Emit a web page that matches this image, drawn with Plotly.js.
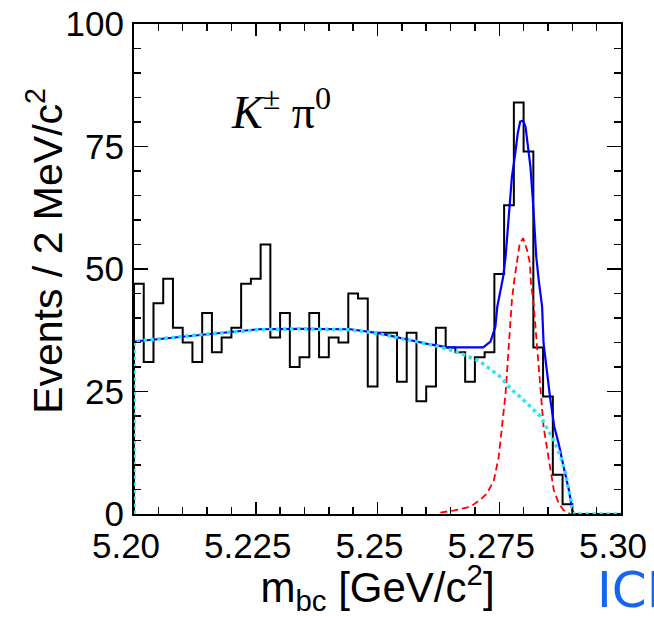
<!DOCTYPE html>
<html>
<head>
<meta charset="utf-8">
<script src="https://cdn.plot.ly/plotly-3.0.1.min.js"></script>
<style>html,body{margin:0;padding:0;background:#fff;}#chart{width:654px;height:617px;}</style>
</head>
<body>
<div id="chart"></div>
<script>
// ---- Histogram: events per 2 MeV/c^2 bin, m_bc from 5.20 to 5.30 GeV/c^2 ----
const binStart = 5.20;
const binWidth = 0.002;
const counts = [47, 31, 43, 48, 38, 35, 31, 41, 33, 36,
                38, 47, 48, 55, 36, 41, 30, 32, 41, 32,
                36, 35, 45, 44, 26, 37, 37, 27, 37, 23,
                26, 38, 34, 33, 27, 32, 33, 49, 63, 84,
                74, 34, 24, 8, 2, 0, 0, 0, 0, 0];

// ---- Total fit (blue) ----
const totalX = [5.2000, 5.2125, 5.2255, 5.2341, 5.2444, 5.2502, 5.2547, 5.2608, 5.2645, 5.2717,
                5.2732, 5.2742, 5.2746, 5.2752, 5.2758, 5.2763, 5.2769, 5.2776, 5.2783, 5.2788,
                5.2793, 5.2799, 5.2804, 5.2809, 5.2814, 5.2819, 5.2822, 5.2826, 5.2831, 5.2838,
                5.2841, 5.2848, 5.2855, 5.2863, 5.2872, 5.2882, 5.2893, 5.2900, 5.2903];
const totalY = [35.2, 36.5, 37.7, 37.8, 37.7, 36.9, 35.9, 34.6, 34.0, 34.0,
                35.2, 38.2, 42.3, 45.7, 48.4, 52.5, 60.7, 68.8, 73.7, 77.7,
                80.1, 80.3, 79.0, 74.3, 70.9, 64.1, 59.3, 52.5, 47.8, 42.3,
                34.8, 28.7, 23.3, 17.8, 14.4, 9.7, 4.9, 0.8, 0.0];

// ---- Background (cyan, dotted) ----
const bkgX = [5.2000, 5.2000, 5.2125, 5.2255, 5.2341, 5.2444, 5.2502, 5.2547, 5.2608, 5.2666,
              5.2711, 5.2752, 5.2773, 5.2793, 5.2814, 5.2835, 5.2848, 5.2862, 5.2876, 5.2886,
              5.2893, 5.2900, 5.2903, 5.3000];
const bkgY = [0.0, 35.2, 36.5, 37.6, 37.8, 37.6, 36.8, 35.9, 34.6, 33.0,
              31.1, 28.0, 25.6, 23.9, 21.9, 19.9, 17.5, 15.1, 11.7, 8.3,
              4.9, 1.5, 0.0, 0.0];

// ---- Signal (red, dashed) ----
const sigX = [5.2629, 5.2656, 5.2691, 5.2711, 5.2725, 5.2739, 5.2749, 5.2756, 5.2763, 5.2769,
              5.2776, 5.2781, 5.2788, 5.2792, 5.2799, 5.2807, 5.2813, 5.2815, 5.2820, 5.2828,
              5.2835, 5.2841, 5.2852, 5.2862, 5.2872, 5.2882, 5.2896];
const sigY = [0.3, 0.7, 1.5, 2.9, 4.2, 6.9, 11.7, 17.8, 24.6, 33.5,
              43.7, 47.8, 52.5, 55.2, 56.3, 53.9, 51.2, 47.1, 43.5, 33.5,
              25.3, 17.8, 11.0, 4.9, 2.2, 0.8, 0.0];

// ---- Axis ticks ----
const xTickVals = [5.20, 5.225, 5.25, 5.275, 5.30];
const xTickText = ['5.20', '5.225', '5.25', '5.275', '5.30'];
const yTickVals = [0, 25, 50, 75, 100];
const yTickText = ['0', '25', '50', '75', '100'];

// histogram outline built from the bins
const histX = [binStart];
const histY = [0];
for (let i = 0; i < counts.length; i++) {
  histX.push(binStart + binWidth * i);
  histY.push(counts[i]);
}
histX.push(binStart + binWidth * counts.length);
histY.push(counts[counts.length - 1]);

const traces = [
  {x: histX, y: histY, type: 'scatter', mode: 'lines', line: {shape: 'hv', color: '#000000', width: 2}, hoverinfo: 'skip'},
  {x: totalX, y: totalY, type: 'scatter', mode: 'lines', line: {color: '#0000ff', width: 2.2}, hoverinfo: 'skip'},
  {x: sigX, y: sigY, type: 'scatter', mode: 'lines', line: {color: '#ff0000', width: 1.8, dash: '7px,4px'}, hoverinfo: 'skip'},
  {x: bkgX, y: bkgY, type: 'scatter', mode: 'lines', line: {color: '#2ee6f0', width: 3.5, dash: 'dot'}, hoverinfo: 'skip'}
];

const tickFont = {family: 'Liberation Sans, Arial, sans-serif', size: 35, color: '#000'};

const layout = {
  width: 654, height: 617,
  margin: {l: 134, r: 33, t: 24, b: 103, pad: 0},
  paper_bgcolor: '#ffffff', plot_bgcolor: '#ffffff',
  showlegend: false,
  xaxis: {
    range: [5.20, 5.30], tickmode: 'array', tickvals: xTickVals, ticktext: xTickText,
    ticks: 'inside', ticklen: 12, tickwidth: 1.5, tickcolor: '#000',
    minor: {tick0: 5.20, dtick: 0.005, ticks: 'inside', ticklen: 7, tickwidth: 1.5, tickcolor: '#000'},
    showline: true, linecolor: '#000', linewidth: 2, mirror: 'allticks',
    showgrid: false, zeroline: false, tickfont: tickFont,
    ticklabelstandoff: 0, ticklabelshift: -8, ticklabeloverflow: 'allow',
    title: {text: 'm<sub>bc</sub> [GeV/c<sup>2</sup>]', font: {family: 'Liberation Sans, Arial, sans-serif', size: 42, color: '#000'}, standoff: 4}
  },
  yaxis: {
    range: [0, 100], tickmode: 'array', tickvals: yTickVals, ticktext: yTickText,
    ticks: 'inside', ticklen: 14, tickwidth: 1.5, tickcolor: '#000',
    minor: {tick0: 0, dtick: 5, ticks: 'inside', ticklen: 7, tickwidth: 1.5, tickcolor: '#000'},
    showline: true, linecolor: '#000', linewidth: 2, mirror: 'allticks',
    showgrid: false, zeroline: false, tickfont: tickFont, ticklabelstandoff: 1
  },
  annotations: [
    {text: 'Events / 2 MeV/c<sup>2</sup>', xref: 'paper', yref: 'paper', x: 0, y: 0.537, xshift: -89,
     xanchor: 'center', yanchor: 'middle', textangle: -90, showarrow: false,
     font: {family: 'Liberation Sans, Arial, sans-serif', size: 41, color: '#000'}},
    {text: '<i>K</i><sup>±</sup> π<sup>0</sup>', xref: 'paper', yref: 'paper', x: 0.302, y: 0.826,
     xanchor: 'center', yanchor: 'middle', showarrow: false,
     font: {family: 'Liberation Serif, Times New Roman, serif', size: 46, color: '#000'}},
    {text: 'ICH', xref: 'paper', yref: 'paper', x: 0.9466, y: -0.155, xanchor: 'left', yanchor: 'middle', showarrow: false,
     font: {family: 'DejaVu Sans, Verdana, sans-serif', size: 50, color: '#1466f0'}}
  ]
};

Plotly.newPlot('chart', traces, layout, {staticPlot: true, displayModeBar: false});
</script>
</body>
</html>
